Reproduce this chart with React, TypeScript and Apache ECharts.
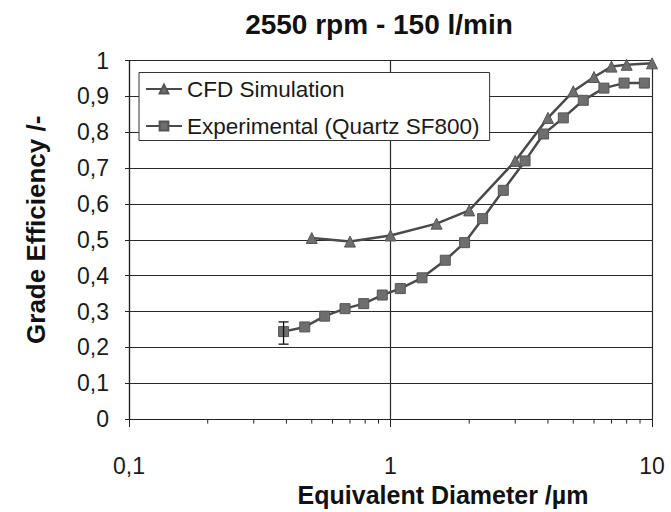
import React, { useEffect, useRef } from "react";
import * as echarts from "echarts";

const titleText = "2550 rpm - 150 l/min";
const xAxisName = "Equivalent Diameter /µm";
const yAxisName = "Grade Efficiency /-";
const cfdName = "CFD Simulation";
const expName = "Experimental (Quartz SF800)";

const cfdX = [0.5, 0.7, 1.0, 1.5, 2.0, 3.0, 4.0, 5.0, 6.0, 7.0, 8.0, 10.0];
const cfdY = [0.505, 0.495, 0.512, 0.545, 0.582, 0.72, 0.84, 0.914, 0.954, 0.983, 0.988, 0.992];

const expX = [0.39, 0.47, 0.56, 0.67, 0.79, 0.93, 1.09, 1.32, 1.62, 1.92, 2.25, 2.7, 3.27, 3.85, 4.58, 5.46, 6.55, 7.82, 9.35];
const expY = [0.244, 0.257, 0.287, 0.308, 0.322, 0.346, 0.364, 0.394, 0.443, 0.492, 0.559, 0.638, 0.72, 0.795, 0.84, 0.889, 0.923, 0.937, 0.937];

const errX = [0.39];
const errLow = [0.209];
const errHigh = [0.271];

const minorTickValues = [0.2, 0.3, 0.4, 0.5, 0.6, 0.7, 0.8, 0.9, 2, 3, 4, 5, 6, 7, 8, 9];

const FONT = "'Liberation Sans', Arial, Helvetica, sans-serif";

export default function App() {
  const ref = useRef<HTMLDivElement>(null);
  useEffect(() => {
    if (!ref.current) return;
    const chart = echarts.init(ref.current, null, { renderer: "svg" });
    const option: any = {
      animation: false,
      backgroundColor: "#ffffff",
      textStyle: { fontFamily: FONT },
      title: {
        text: titleText,
        left: 379,
        textAlign: "center",
        top: 10,
        padding: 0,
        textStyle: { fontSize: 28, fontWeight: "bold", color: "#111", fontFamily: FONT },
      },
      grid: { left: 129, right: 19, top: 60.5, bottom: 89.5, containLabel: false },
      legend: {
        data: [{ name: cfdName }, { name: expName }],
        orient: "vertical",
        left: 139,
        top: 72.5,
        padding: [5, 10, 3, 6],
        itemGap: 14,
        itemWidth: 36,
        itemHeight: 11,
        backgroundColor: "#ffffff",
        borderColor: "#333",
        borderWidth: 1,
        borderRadius: 0,
        textStyle: { fontSize: 22.5, color: "#1a1a1a", fontFamily: FONT },
      },
      xAxis: {
        type: "log",
        logBase: 10,
        min: 0.1,
        max: 10,
        name: xAxisName,
        nameLocation: "middle",
        nameGap: 56,
        nameTextStyle: { fontSize: 25, fontWeight: "bold", color: "#111", fontFamily: FONT, padding: [0, 0, 0, 105] },
        axisLine: { show: true, onZero: false, lineStyle: { color: "#222", width: 1.2 } },
        axisTick: { show: true, inside: false, length: 8, lineStyle: { color: "#222" } },
        axisLabel: {
          fontSize: 23,
          color: "#1a1a1a",
          margin: 35,
          fontFamily: FONT,
          formatter: (v: number) => String(v).replace(".", ","),
        },
        splitLine: { show: true, lineStyle: { color: "#2a2a2a", width: 1.2 } },
        minorTick: { show: false },
      },
      yAxis: {
        type: "value",
        min: 0,
        max: 1,
        interval: 0.1,
        name: yAxisName,
        nameLocation: "middle",
        nameGap: 80,
        nameRotate: 90,
        nameTextStyle: { fontSize: 26, fontWeight: "bold", color: "#111", fontFamily: FONT, padding: [0, 0, 0, 20] },
        axisLine: { show: true, lineStyle: { color: "#222", width: 1.2 } },
        axisTick: { show: true, inside: false, length: 4, lineStyle: { color: "#222" } },
        axisLabel: {
          fontSize: 23,
          color: "#1a1a1a",
          margin: 20,
          fontFamily: FONT,
          formatter: (v: number) => String(Math.round(v * 10) / 10).replace(".", ","),
        },
        splitLine: { show: true, lineStyle: { color: "#2a2a2a", width: 1.2 } },
      },
      series: [
        {
          name: "minorTicks",
          type: "custom",
          silent: true,
          clip: false,
          z: 3,
          data: minorTickValues.map((v) => [v, 0]),
          renderItem: (params: any, api: any) => {
            const p = api.coord([api.value(0), 0]);
            return {
              type: "line",
              shape: { x1: p[0], y1: p[1], x2: p[0], y2: p[1] + 4.5 },
              style: { stroke: "#222", lineWidth: 1 },
            };
          },
        },
        {
          name: cfdName,
          type: "line",
          data: cfdX.map((x, i) => [x, cfdY[i]]),
          symbol: "triangle",
          symbolSize: 11,
          showAllSymbol: true,
          lineStyle: { color: "#4a4a4a", width: 2.5 },
          itemStyle: { color: "#6e6e6e", borderColor: "#555", borderWidth: 1 },
          z: 5,
        },
        {
          name: "errorBars",
          type: "custom",
          silent: true,
          z: 6,
          data: errX.map((x, i) => [x, errLow[i], errHigh[i]]),
          renderItem: (params: any, api: any) => {
            const lo = api.coord([api.value(0), api.value(1)]);
            const hi = api.coord([api.value(0), api.value(2)]);
            const w = 5;
            return {
              type: "group",
              children: [
                { type: "line", shape: { x1: lo[0], y1: lo[1], x2: hi[0], y2: hi[1] }, style: { stroke: "#111", lineWidth: 1.3 } },
                { type: "line", shape: { x1: lo[0] - w, y1: lo[1], x2: lo[0] + w, y2: lo[1] }, style: { stroke: "#111", lineWidth: 1.3 } },
                { type: "line", shape: { x1: hi[0] - w, y1: hi[1], x2: hi[0] + w, y2: hi[1] }, style: { stroke: "#111", lineWidth: 1.3 } },
              ],
            };
          },
        },
        {
          name: expName,
          type: "line",
          data: expX.map((x, i) => [x, expY[i]]),
          symbol: "rect",
          symbolSize: 10,
          showAllSymbol: true,
          lineStyle: { color: "#4a4a4a", width: 2.5 },
          itemStyle: { color: "#6e6e6e", borderColor: "#555", borderWidth: 1 },
          z: 5,
        },
      ],
    };
    chart.setOption(option);
    return () => chart.dispose();
  }, []);
  return <div ref={ref} style={{ width: 671, height: 512, position: "absolute", left: 0, top: 0 }} />;
}
